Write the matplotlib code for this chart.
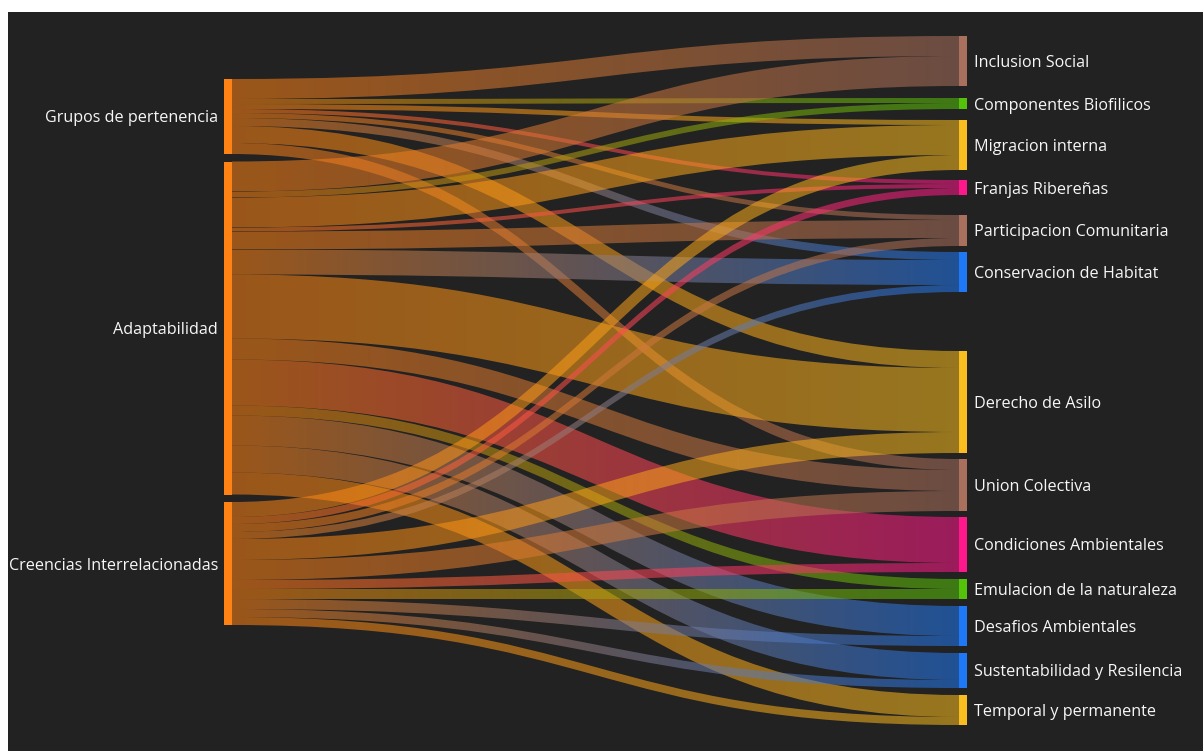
import numpy as np
import matplotlib
matplotlib.use('Agg')
import matplotlib.pyplot as plt
from matplotlib.path import Path
from matplotlib.patches import PathPatch, Rectangle
from matplotlib.colors import to_rgb

# nodes
sources = ['Grupos de pertenencia', 'Adaptabilidad', 'Creencias Interrelacionadas']
targets = ['Inclusion Social', 'Componentes Biofilicos', 'Migracion interna',
           'Franjas Ribereñas', 'Participacion Comunitaria', 'Conservacion de Habitat',
           'Derecho de Asilo', 'Union Colectiva', 'Condiciones Ambientales',
           'Emulacion de la naturaleza', 'Desafios Ambientales',
           'Sustentabilidad y Resilencia', 'Temporal y permanente']

# link values, one row per source, one column per target
grupos = [20, 5, 5, 4, 5, 8, 17, 11, 0, 0, 0, 0, 0]
adaptabilidad = [30, 6, 30, 4, 18, 25, 64, 21, 46, 10, 30, 27, 22]
creencias = [0, 0, 15, 7, 8, 7, 21, 20, 9, 10, 10, 8, 8]

# colours
orange = '#ff8214'
brown = '#a9705e'
green = '#55c20a'
yellow = '#f9bd1f'
pink = '#ff178c'
blue = '#1f78f5'
source_colors = [orange, orange, orange]
target_colors = [brown, green, yellow, pink, brown, blue, yellow, brown,
                 pink, green, blue, blue, yellow]

bg = '#222222'
link_alpha = 0.55

# layout (pixels)
W, H = 1203, 751
x_left, x_right = 224, 959
node_w = 7.5
left_top, left_pad = 79, 7.5
right_top = 36
right_gaps = [0, 12, 11, 10, 20, 6, 59, 6, 6, 7, 7, 7, 7]

values = np.array([grupos, adaptabilidad, creencias], dtype=float)

fig = plt.figure(figsize=(W / 100, H / 100), dpi=100, facecolor='white')
ax = fig.add_axes([0, 0, 1, 1])
ax.set_xlim(0, W)
ax.set_ylim(H, 0)
ax.axis('off')
ax.add_patch(Rectangle((8, 12), W - 8, H - 12, facecolor=bg, edgecolor='none', zorder=0))

# node positions
src_size = values.sum(axis=1)
tgt_size = values.sum(axis=0)
src_y = []
y = left_top
for s in src_size:
    src_y.append(y)
    y += s + left_pad
tgt_y = []
y = right_top
for g, s in zip(right_gaps, tgt_size):
    y += g
    tgt_y.append(y)
    y += s

# link offsets inside nodes (sorted by the other node's position)
src_off = list(src_y)
tgt_off = list(tgt_y)
links = []
for i in range(len(sources)):
    for j in range(len(targets)):
        v = values[i, j]
        if v <= 0:
            continue
        links.append((i, j, v, src_off[i]))
        src_off[i] += v
links2 = []
for j in range(len(targets)):
    for (i, jj, v, s0) in links:
        if jj != j:
            continue
        links2.append((i, j, v, s0, tgt_off[j]))
        tgt_off[j] += v

x0 = x_left + node_w
x1 = x_right
xm = (x0 + x1) / 2
for (i, j, v, s0, t0) in sorted(links2, key=lambda l: (l[0], l[1])):
    s1, t1 = s0 + v, t0 + v
    verts = [(x0, s0), (xm, s0), (xm, t0), (x1, t0),
             (x1, t1), (xm, t1), (xm, s1), (x0, s1), (x0, s0)]
    codes = [Path.MOVETO, Path.CURVE4, Path.CURVE4, Path.CURVE4,
             Path.LINETO, Path.CURVE4, Path.CURVE4, Path.CURVE4, Path.CLOSEPOLY]
    patch = PathPatch(Path(verts, codes), facecolor='none', edgecolor='none')
    ax.add_patch(patch)
    c0 = np.array(to_rgb(source_colors[i]))
    c1 = np.array(to_rgb(target_colors[j]))
    t = np.linspace(0, 1, 256)[:, None]
    grad = np.ones((1, 256, 4))
    grad[0, :, :3] = c0 * (1 - t) + c1 * t
    grad[0, :, 3] = link_alpha
    ymin, ymax = min(s0, t0), max(s1, t1)
    im = ax.imshow(grad, extent=(x0, x1, ymax, ymin), aspect='auto',
                   interpolation='bilinear', zorder=1)
    im.set_clip_path(patch)

ax.set_xlim(0, W)
ax.set_ylim(H, 0)

# nodes and labels
font = dict(family=['Open Sans', 'DejaVu Sans'], fontsize=11.6, color='#f7f7f7')
for name, y0, s, c in zip(sources, src_y, src_size, source_colors):
    ax.add_patch(Rectangle((x_left, y0), node_w, s, facecolor=c, edgecolor='none', zorder=3))
    ax.text(x_left - 6, y0 + s / 2, name, ha='right', va='center_baseline', zorder=4, **font)
for name, y0, s, c in zip(targets, tgt_y, tgt_size, target_colors):
    ax.add_patch(Rectangle((x_right, y0), node_w, s, facecolor=c, edgecolor='none', zorder=3))
    ax.text(x_right + node_w + 8, y0 + s / 2, name, ha='left', va='center_baseline', zorder=4, **font)

fig.savefig('out.png', dpi=100, facecolor='white')
